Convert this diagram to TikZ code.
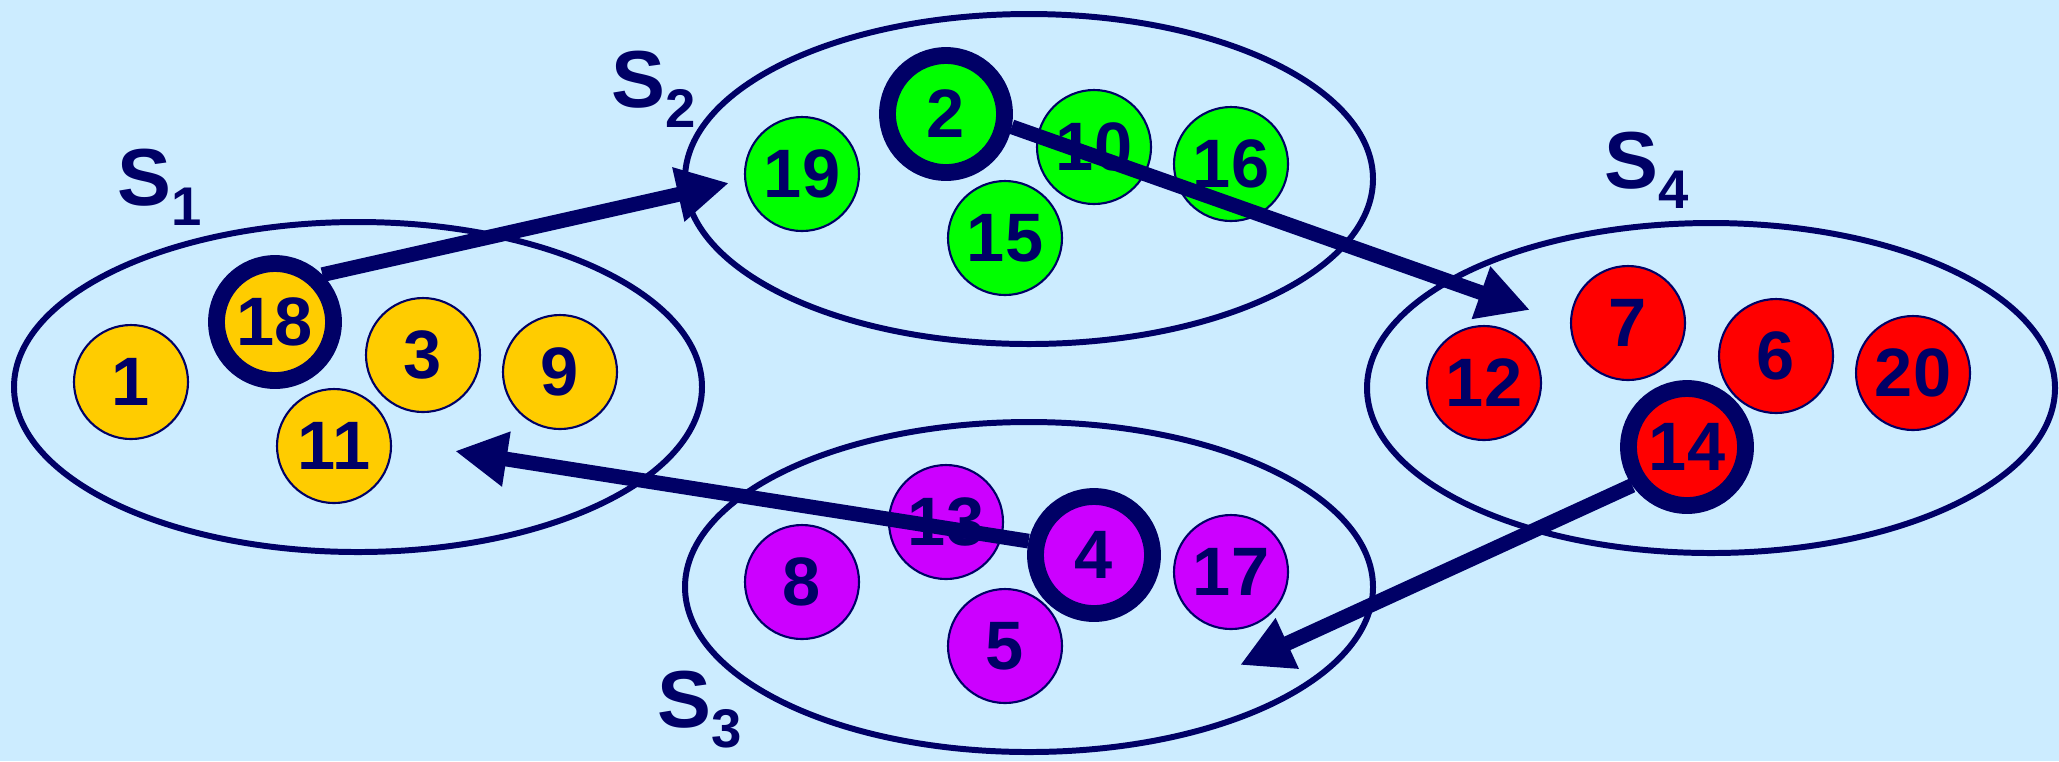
\documentclass[tikz,border=0pt]{standalone}
\usepackage{fontspec}
\setmainfont{Liberation Sans}
\usepackage{tikz}
\usetikzlibrary{arrows.meta, positioning, shapes.geometric, calc}
\definecolor{paleblue}{RGB}{204,236,255}
\definecolor{navy}{RGB}{0,0,102}
\definecolor{goldfill}{RGB}{255,204,0}
\definecolor{limefill}{RGB}{0,255,0}
\definecolor{redfill}{RGB}{255,0,0}
\definecolor{purplefill}{RGB}{204,0,255}
\newcommand{\SetName}[1]{S\raisebox{-0.2cm}{\fontsize{15.5}{16}\selectfont #1}}
\tikzset{
    cluster/.style={ellipse, draw=navy, line width=1.7pt, minimum width=6.88cm, minimum height=3.30cm, inner sep=0pt},
    elem/.style={circle, draw=navy, line width=0.6pt, minimum size=1.14cm, inner sep=0pt, text=navy, font=\fontsize{19.5}{20}\selectfont\bfseries},
    lead/.style={elem, line width=4.8pt, minimum size=1.17cm},
    setlabel/.style={anchor=base west, inner sep=0pt, text=navy, font=\fontsize{23}{24}\selectfont\bfseries},
    link/.style={draw=navy, line width=4.2pt, -{Triangle[length=5.2mm, width=5.2mm]}},
}

\begin{document}
\begin{tikzpicture}
    \fill[paleblue] (0,0) rectangle (20.59,-7.61);
    \useasboundingbox (0,0) rectangle (20.59,-7.61);

    % the four sets
    \node[cluster] (S1) at (3.58,-3.87) {};
    \node[cluster] (S2) at (10.29,-1.79) {};
    \node[cluster] (S3) at (10.29,-5.87) {};
    \node[cluster] (S4) at (17.11,-3.88) {};

    \node[setlabel] (L1) at (1.17,-2.05) {\SetName{1}};
    \node[setlabel] (L2) at (6.11,-1.07) {\SetName{2}};
    \node[setlabel] (L3) at (6.57,-7.27) {\SetName{3}};
    \node[setlabel] (L4) at (16.04,-1.88) {\SetName{4}};

    % S1
    \node[elem, fill=goldfill] (n1) at ($(S1)+(-2.27,0.05)$) {1};
    \node[lead, fill=goldfill] (n18) at ($(S1)+(-0.83,0.65)$) {18};
    \node[elem, fill=goldfill] (n3) at ($(S1)+(0.65,0.32)$) {3};
    \node[elem, fill=goldfill] (n9) at ($(S1)+(2.02,0.15)$) {9};
    \node[elem, fill=goldfill] (n11) at ($(S1)+(-0.24,-0.59)$) {11};

    % S2
    \node[elem, fill=limefill] (n19) at ($(S2)+(-2.27,0.05)$) {19};
    \node[lead, fill=limefill] (n2) at ($(S2)+(-0.83,0.65)$) {2};
    \node[elem, fill=limefill] (n10) at ($(S2)+(0.65,0.32)$) {10};
    \node[elem, fill=limefill] (n16) at ($(S2)+(2.02,0.15)$) {16};
    \node[elem, fill=limefill] (n15) at ($(S2)+(-0.24,-0.59)$) {15};

    % S3
    \node[elem, fill=purplefill] (n8) at ($(S3)+(-2.27,0.05)$) {8};
    \node[elem, fill=purplefill] (n13) at ($(S3)+(-0.83,0.65)$) {13};
    \node[lead, fill=purplefill] (n4) at ($(S3)+(0.65,0.32)$) {4};
    \node[elem, fill=purplefill] (n17) at ($(S3)+(2.02,0.15)$) {17};
    \node[elem, fill=purplefill] (n5) at ($(S3)+(-0.24,-0.59)$) {5};

    % S4
    \node[elem, fill=redfill] (n12) at ($(S4)+(-2.27,0.05)$) {12};
    \node[elem, fill=redfill] (n7) at ($(S4)+(-0.83,0.65)$) {7};
    \node[elem, fill=redfill] (n6) at ($(S4)+(0.65,0.32)$) {6};
    \node[elem, fill=redfill] (n20) at ($(S4)+(2.02,0.15)$) {20};
    \node[lead, fill=redfill] (n14) at ($(S4)+(-0.24,-0.59)$) {14};

    \draw[link] (n18.45) -- ([xshift=4.7mm,yshift=-0.4mm]S2.west);
    \draw[link] (n2.349) -- ([xshift=-18.1mm,yshift=7.8mm]S4.center);
    \draw[link] (n14.215) -- ([xshift=21.1mm,yshift=-7.8mm]S3.center);
    \draw[link] (n4.168) -- ([xshift=9.7mm,yshift=-6.4mm]S1.center);
\end{tikzpicture}
\end{document}
